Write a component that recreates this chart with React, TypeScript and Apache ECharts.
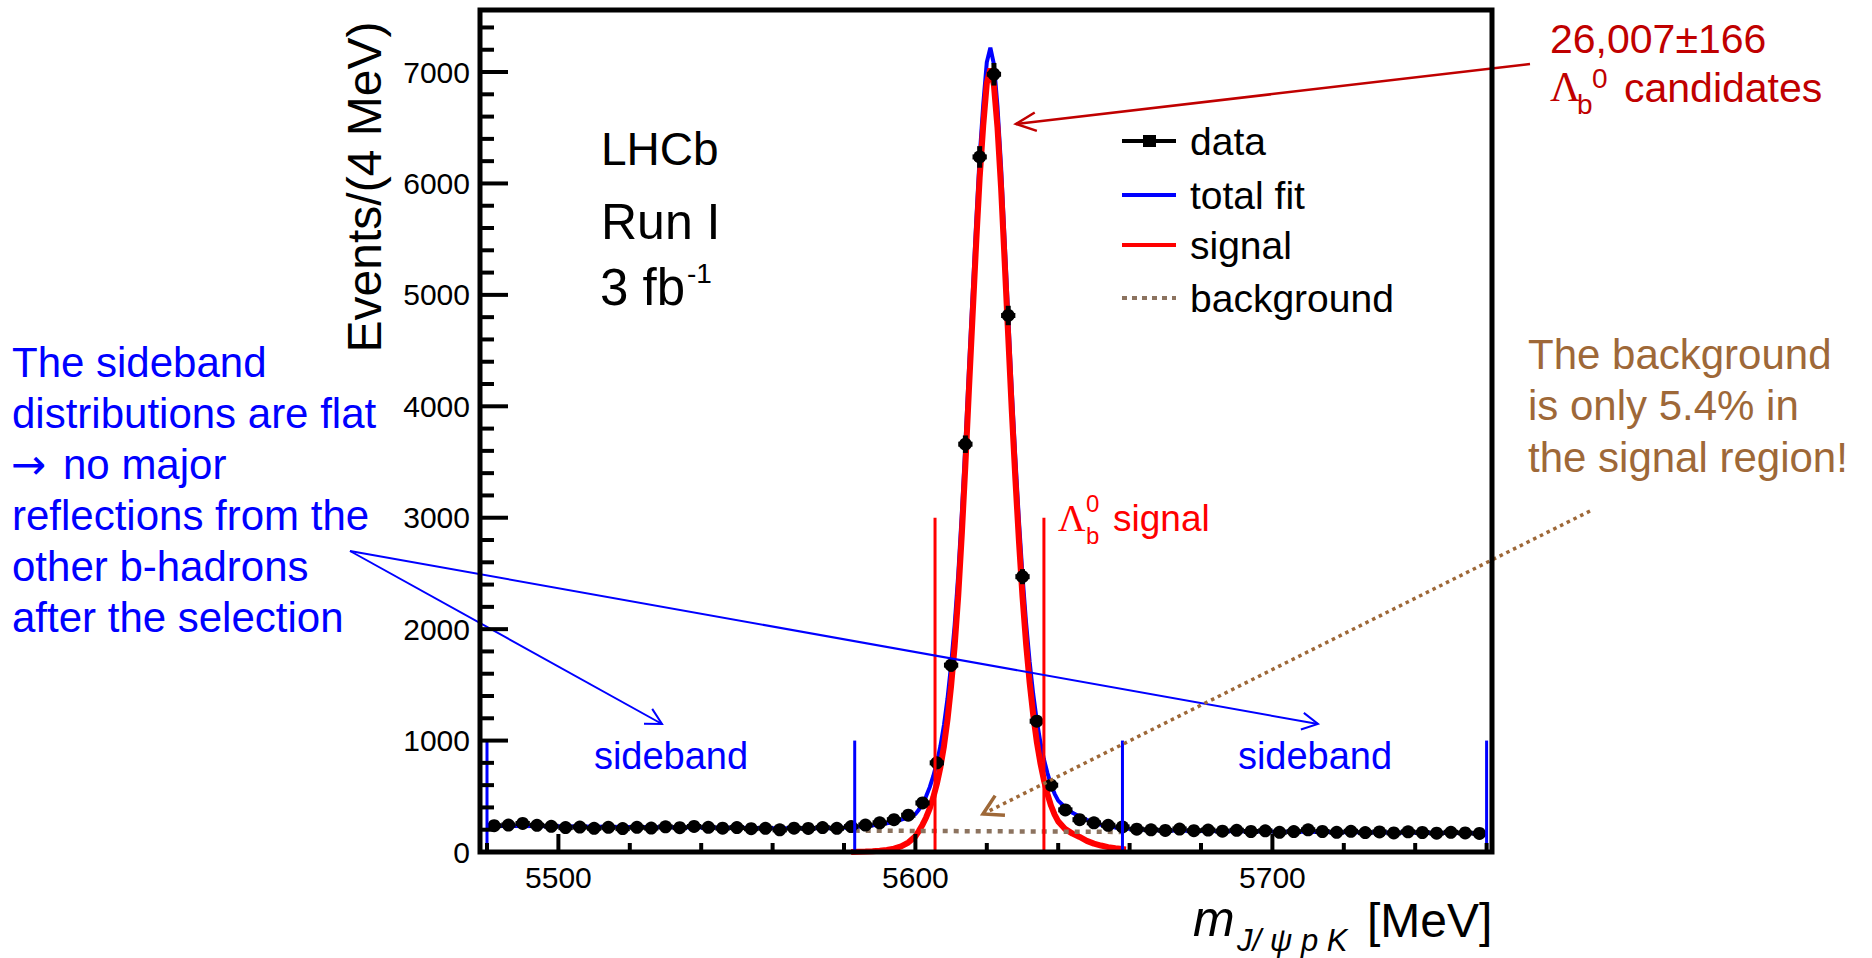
import React, { useEffect, useRef } from 'react';
import * as echarts from 'echarts';

// ---------------- data ----------------
const BIN_WIDTH = 4; // MeV
const binCentres = [
  5482, 5486, 5490, 5494, 5498, 5502, 5506, 5510, 5514, 5518,
  5522, 5526, 5530, 5534, 5538, 5542, 5546, 5550, 5554, 5558,
  5562, 5566, 5570, 5574, 5578, 5582, 5586, 5590, 5594, 5598,
  5602, 5606, 5610, 5614, 5618, 5622, 5626, 5630, 5634, 5638,
  5642, 5646, 5650, 5654, 5658, 5662, 5666, 5670, 5674, 5678,
  5682, 5686, 5690, 5694, 5698, 5702, 5706, 5710, 5714, 5718,
  5722, 5726, 5730, 5734, 5738, 5742, 5746, 5750, 5754, 5758,
];
const eventCounts = [
  236, 242, 256, 240, 231, 219, 224, 213, 221, 210,
  222, 215, 226, 218, 229, 221, 214, 219, 209, 213,
  199, 214, 211, 219, 213, 228, 242, 262, 290, 330,
  440, 800, 1677, 3660, 6238, 6980, 4815, 2471, 1174, 600,
  378, 290, 262, 240, 225, 205, 199, 194, 206, 191,
  197, 187, 195, 184, 190, 177, 183, 199, 184, 177,
  186, 174, 180, 171, 181, 175, 169, 177, 171, 167,
];

const signalMass = [
  5582, 5584, 5586, 5588, 5590, 5592, 5594, 5596, 5598, 5600,
  5601, 5602, 5603, 5604, 5605, 5606, 5607, 5608, 5609, 5610,
  5611, 5612, 5613, 5614, 5615, 5616, 5617, 5618, 5619, 5620,
  5621, 5622, 5623, 5624, 5625, 5626, 5627, 5628, 5629, 5630,
  5631, 5632, 5633, 5634, 5635, 5636, 5637, 5638, 5639, 5640,
  5642, 5644, 5646, 5648, 5650, 5652, 5654, 5656, 5658, 5659,
];
const signalValues = [
  0, 2, 4, 7, 11, 18, 30, 50, 85, 140,
  190, 245, 310, 390, 490, 610, 760, 950, 1190, 1490,
  1850, 2300, 2850, 3470, 4150, 4800, 5450, 6050, 6520, 6900,
  7030, 6880, 6500, 5960, 5300, 4625, 3960, 3350, 2790, 2290,
  1870, 1520, 1230, 990, 800, 645, 520, 415, 335, 275,
  205, 165, 135, 100, 75, 58, 44, 33, 26, 23,
];

const totalMass = [
  5480, 5500, 5520, 5540, 5560, 5575, 5582, 5586, 5590, 5594,
  5597, 5600, 5601, 5602, 5603, 5604, 5605, 5606, 5607, 5608,
  5609, 5610, 5611, 5612, 5613, 5614, 5615, 5616, 5617, 5618,
  5619, 5620, 5621, 5622, 5623, 5624, 5625, 5626, 5627, 5628,
  5629, 5630, 5631, 5632, 5633, 5634, 5635, 5636, 5637, 5638,
  5639, 5640, 5642, 5644, 5646, 5648, 5650, 5652, 5654, 5656,
  5658, 5662, 5670, 5680, 5700, 5720, 5740, 5760,
];
const totalValues = [
  234, 230, 225, 220, 215, 214, 220, 230, 246, 270,
  300, 340, 382, 435, 500, 580, 680, 800, 949, 1139,
  1379, 1679, 2039, 2489, 3039, 3659, 4339, 4989, 5638, 6238,
  6708, 7088, 7218, 7068, 6688, 6148, 5488, 4813, 4147, 3537,
  2977, 2477, 2057, 1707, 1417, 1177, 987, 832, 707, 602,
  522, 461, 400, 352, 318, 288, 262, 245, 232, 220,
  212, 202, 194, 189, 183, 178, 173, 168,
];

const backgroundMass = [5583, 5658];
const backgroundValues = [192, 180];

const sidebandEdges = [5480, 5583, 5658, 5760];
const sidebandLineHeight = 1000;
const signalWindowEdges = [5605.5, 5636];
const signalLineHeight = 3000;

// axis ticks
const xMajorTicks = [5500, 5600, 5700];
const xMinorTicks = [5480, 5520, 5540, 5560, 5580, 5620, 5640, 5660, 5680, 5720, 5740, 5760];
const yMajorTicks = [1000, 2000, 3000, 4000, 5000, 6000, 7000];
const yMinorTicks = [
  200, 400, 600, 800, 1200, 1400, 1600, 1800, 2200, 2400, 2600, 2800,
  3200, 3400, 3600, 3800, 4200, 4400, 4600, 4800, 5200, 5400, 5600, 5800,
  6200, 6400, 6600, 6800, 7200, 7400,
];

const legendLabels = ['data', 'total fit', 'signal', 'background'];
const leftNote = [
  'The sideband',
  'distributions are flat',
  'no major',
  'reflections from the',
  'other b-hadrons',
  'after the selection',
];
const rightNote = ['The background', 'is only 5.4% in', 'the signal region!'];

// ---------------- layout / styling ----------------
const SANS = '"Liberation Sans", Arial, Helvetica, sans-serif';
const SERIF = '"Liberation Serif", "Times New Roman", serif';
const BLUE = '#0000ff';
const RED = '#ff0000';
const DARKRED = '#c00000';
const BROWN = '#9e6838';
const BGLINE = '#8c735f';
const FRAME_LEFT = 480;

const GRID = { left: 201.4, right: 242.6, top: -39.4, bottom: 106 };
const X_MIN = 5400;
const X_MAX = 5800;
const Y_MIN = 0;
const Y_MAX = 8000;
const W = 1872;
const H = 958;
const PLOT_W = W - GRID.left - GRID.right;
const PLOT_H = H - GRID.top - GRID.bottom;
const xPx = (v: number) => GRID.left + ((v - X_MIN) / (X_MAX - X_MIN)) * PLOT_W;
const yPx = (v: number) => GRID.top + PLOT_H - ((v - Y_MIN) / (Y_MAX - Y_MIN)) * PLOT_H;

function txt(x: number, y: number, text: string, fontSize: number, fill: string, extra: any = {}) {
  return {
    type: 'text',
    x,
    y,
    z: 100,
    silent: true,
    rotation: extra.rotation || 0,
    style: {
      text,
      fill,
      fontSize,
      fontFamily: extra.fontFamily || SANS,
      fontStyle: extra.fontStyle || 'normal',
      align: extra.align || 'left',
      verticalAlign: 'middle',
    },
  };
}

function line(x1: number, y1: number, x2: number, y2: number, stroke: string, lineWidth: number, lineDash?: number[]) {
  const st: any = { stroke, lineWidth };
  if (lineDash) st.lineDash = lineDash;
  return { type: 'line', z: 100, silent: true, shape: { x1, y1, x2, y2 }, style: st };
}

function head(tipX: number, tipY: number, fromX: number, fromY: number, len: number, deg: number, stroke: string, lineWidth: number) {
  const a = Math.atan2(fromY - tipY, fromX - tipX);
  const d = (deg * Math.PI) / 180;
  return {
    type: 'polyline',
    z: 100,
    silent: true,
    shape: {
      points: [
        [tipX + len * Math.cos(a + d), tipY + len * Math.sin(a + d)],
        [tipX, tipY],
        [tipX + len * Math.cos(a - d), tipY + len * Math.sin(a - d)],
      ],
    },
    style: { stroke, lineWidth, fill: 'none' },
  };
}

function rect(x: number, y: number, width: number, height: number, style: any, z = 99) {
  return { type: 'rect', z, silent: true, shape: { x, y, width, height }, style };
}

const TICK_W = 4;
const tickLabelFmt = (v: number) => String(v);

export default function App() {
  const ref = useRef<HTMLDivElement>(null);

  useEffect(() => {
    if (!ref.current) return;
    const chart = echarts.init(ref.current, null, { renderer: 'svg' });

    const legendY = [141, 195, 245, 298];
    const y0 = yPx(0);
    const black = { fill: '#000' };

    const tickEls: any[] = [
      ...xMajorTicks.map((v) => rect(xPx(v) - TICK_W / 2, y0 - 18, TICK_W, 18, black, 103)),
      ...xMinorTicks.map((v) => rect(xPx(v) - TICK_W / 2, y0 - 9, TICK_W, 9, black, 103)),
      ...yMajorTicks.map((v) => rect(FRAME_LEFT, yPx(v) - TICK_W / 2, 28, TICK_W, black, 103)),
      ...yMinorTicks.map((v) => rect(FRAME_LEFT, yPx(v) - TICK_W / 2, 14, TICK_W, black, 103)),
    ];

    const graphics: any[] = [
      rect(140, 826, 308, 85, { fill: '#fff' }),
      rect(1497, 826, 220, 85, { fill: '#fff' }),
      { type: 'rect', z: 101, silent: true, shape: { x: FRAME_LEFT, y: 10, width: 1012, height: 842 }, style: { fill: 'none', stroke: '#000', lineWidth: 5 } },
      ...tickEls,
      txt(364, 187, 'Events/(4 MeV)', 48, '#000', { rotation: Math.PI / 2, align: 'center' }),
      txt(1193, 919, 'm', 50, '#000', { fontStyle: 'italic' }),
      txt(1237, 940, 'J/ \u03C8 p K', 31, '#000', { fontStyle: 'italic' }),
      txt(1367, 920, '[MeV]', 48, '#000'),
      txt(601, 149, 'LHCb', 46, '#000'),
      txt(601, 222, 'Run I', 50, '#000'),
      txt(600, 287, '3 fb', 51, '#000'),
      txt(687, 273, '-1', 28, '#000'),
      txt(671, 756, 'sideband', 38, BLUE, { align: 'center' }),
      txt(1315, 756, 'sideband', 38, BLUE, { align: 'center' }),
      txt(1058, 518, '\u039B', 38, RED, { fontFamily: SERIF }),
      txt(1086, 503, '0', 24, RED),
      txt(1086, 535, 'b', 24, RED),
      txt(1113, 518, 'signal', 37, RED),
      txt(1550, 39, '26,007\u00B1166', 41, DARKRED),
      txt(1550, 87, '\u039B', 42, DARKRED, { fontFamily: SERIF }),
      txt(1577, 104, 'b', 28, DARKRED),
      txt(1592, 78, '0', 28, DARKRED),
      txt(1624, 88, 'candidates', 41, DARKRED),
      line(1530, 64, 1016, 124, DARKRED, 2.5),
      head(1016, 124, 1530, 64, 22, 25, DARKRED, 2.5),
      ...leftNote.map((s, i) => txt(i === 2 ? 63 : 12, 362 + i * 51, s, 42, BLUE)),
      txt(11, 464, '\u2192', 42, BLUE, { fontFamily: '"DejaVu Sans", sans-serif' }),
      line(350, 551, 662, 724, BLUE, 2),
      head(662, 724, 350, 551, 18, 28, BLUE, 2),
      line(350, 551, 1318, 724, BLUE, 2),
      head(1318, 724, 350, 551, 18, 28, BLUE, 2),
      ...rightNote.map((s, i) => txt(1528, 354 + i * 51.5, s, 42, BROWN)),
      line(1590, 511, 983, 814, BROWN, 3.5, [3.5, 4]),
      head(983, 814, 1590, 511, 22, 30, BROWN, 3.5),
      ...legendLabels.map((s, i) => txt(1190, legendY[i], s, 39, '#000')),
      line(1122, legendY[0], 1176, legendY[0], '#000', 4),
      rect(1143, legendY[0] - 6, 13, 12, { fill: '#000' }),
      line(1122, legendY[1], 1176, legendY[1], BLUE, 4),
      line(1122, legendY[2], 1176, legendY[2], RED, 4),
      line(1122, legendY[3], 1176, legendY[3], BGLINE, 4, [5, 5]),
    ];

    const option: any = {
      animation: false,
      backgroundColor: '#fff',
      grid: { ...GRID, containLabel: false, outerBoundsMode: 'none', show: false },
      xAxis: {
        type: 'value',
        min: X_MIN,
        max: X_MAX,
        interval: 100,
        axisLine: { show: false },
        axisTick: { show: false },
        minorTick: { show: false },
        axisLabel: { show: true, margin: 10, fontSize: 30, color: '#000', fontFamily: SANS, formatter: tickLabelFmt },
        splitLine: { show: false },
        minorSplitLine: { show: false },
      },
      yAxis: {
        type: 'value',
        min: Y_MIN,
        max: Y_MAX,
        interval: 1000,
        offset: -(FRAME_LEFT - GRID.left),
        axisLine: { show: false },
        axisTick: { show: false },
        minorTick: { show: false },
        axisLabel: { show: true, margin: 10, fontSize: 30, color: '#000', fontFamily: SANS, formatter: tickLabelFmt },
        splitLine: { show: false },
        minorSplitLine: { show: false },
      },
      series: [
        {
          type: 'line',
          name: 'total fit',
          data: totalMass.map((m, i) => [m, totalValues[i]]),
          symbol: 'none',
          showSymbol: false,
          lineStyle: { color: BLUE, width: 4 },
          z: 2,
          silent: true,
        },
        {
          type: 'line',
          name: 'signal',
          data: signalMass.map((m, i) => [m, signalValues[i]]),
          symbol: 'none',
          showSymbol: false,
          lineStyle: { color: RED, width: 6 },
          z: 3,
          silent: true,
        },
        {
          type: 'line',
          name: 'background',
          data: backgroundMass.map((m, i) => [m, backgroundValues[i]]),
          symbol: 'none',
          showSymbol: false,
          lineStyle: { color: BGLINE, width: 4.5, type: [5, 6] },
          z: 3,
          silent: true,
        },
        {
          type: 'custom',
          name: 'data',
          data: binCentres.map((m, i) => [m, eventCounts[i]]),
          z: 5,
          silent: true,
          renderItem: (params: any, api: any) => {
            const x = api.value(0);
            const y = api.value(1);
            const err = Math.sqrt(y);
            const c = api.coord([x, y]);
            const l = api.coord([x - BIN_WIDTH / 2, y]);
            const r = api.coord([x + BIN_WIDTH / 2, y]);
            const t = api.coord([x, y + err]);
            const b = api.coord([x, y - err]);
            return {
              type: 'group',
              children: [
                { type: 'line', shape: { x1: l[0], y1: c[1], x2: r[0], y2: c[1] }, style: { stroke: '#000', lineWidth: 5 } },
                { type: 'line', shape: { x1: c[0], y1: t[1] - 2, x2: c[0], y2: b[1] + 2 }, style: { stroke: '#000', lineWidth: 5 } },
                { type: 'circle', shape: { cx: c[0], cy: c[1], r: 6.5 }, style: { fill: '#000' } },
              ],
            };
          },
        },
        {
          type: 'custom',
          name: 'regions',
          data: [
            ...sidebandEdges.map((x) => [x, sidebandLineHeight, 0]),
            ...signalWindowEdges.map((x) => [x, signalLineHeight, 1]),
          ],
          z: 6,
          silent: true,
          renderItem: (params: any, api: any) => {
            const x = api.value(0);
            const h = api.value(1);
            const kind = api.value(2);
            const p0 = api.coord([x, 0]);
            const p1 = api.coord([x, h]);
            return {
              type: 'line',
              shape: { x1: p0[0], y1: p0[1], x2: p1[0], y2: p1[1] },
              style: { stroke: kind === 0 ? BLUE : RED, lineWidth: 3 },
            };
          },
        },
      ],
      graphic: { elements: graphics },
    };

    chart.setOption(option);
    return () => chart.dispose();
  }, []);

  return (
    <div
      ref={ref}
      style={{ position: 'absolute', left: 0, top: 0, width: W, height: H, background: '#fff' }}
    />
  );
}
